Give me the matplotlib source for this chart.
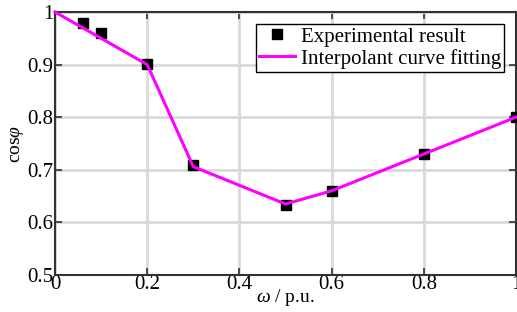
import matplotlib
matplotlib.use('Agg')
import matplotlib.pyplot as plt

# experimental points
exp_w = [0.06, 0.1, 0.2, 0.3, 0.5, 0.6, 0.8, 1.0]
exp_cos = [0.98, 0.961, 0.901, 0.709, 0.633, 0.659, 0.73, 0.80]

# interpolant curve
fit_w = [0.0, 0.2, 0.3, 0.5, 0.6, 0.8, 1.0]
fit_cos = [1.0, 0.9, 0.706, 0.635, 0.66, 0.73, 0.80]

xticks = [0, 0.2, 0.4, 0.6, 0.8, 1]
xticklabels = ['0', '0.2', '0.4', '0.6', '0.8', '1']
yticks = [0.5, 0.6, 0.7, 0.8, 0.9, 1]
yticklabels = ['0.5', '0.6', '0.7', '0.8', '0.9', '1']

plt.rcParams['font.family'] = ['Liberation Serif', 'DejaVu Serif']
plt.rcParams['mathtext.fontset'] = 'custom'
plt.rcParams['mathtext.rm'] = 'Liberation Serif'
plt.rcParams['mathtext.it'] = 'Liberation Serif:italic'

fig = plt.figure(figsize=(5.17, 3.12), dpi=100)
ax = fig.add_axes([55 / 517, 1 - 275 / 312, 461 / 517, 263 / 312])

ax.grid(True, color='#d9d9d9', linewidth=2)
ax.set_axisbelow(True)

ax.plot(exp_w, exp_cos, 's', color='black', markersize=7, label='Experimental result',
        clip_on=False, zorder=3)
ax.plot(fit_w, fit_cos, '-', color='#ff00ff', linewidth=2.2, label='Interpolant curve fitting',
        clip_on=False, zorder=4)

ax.set_xlim(0, 1)
ax.set_ylim(0.5, 1)
ax.set_xticks(xticks)
ax.set_xticklabels(xticklabels)
ax.set_yticks(yticks)
ax.set_yticklabels(yticklabels)
ax.tick_params(direction='in', top=True, right=True, labelsize=15, length=5,
               width=1.2, color='#333333', pad=1)
ax.tick_params(axis='x', pad=0)

for s in ax.spines.values():
    s.set_color('#333333')
    s.set_linewidth(1.5)

ax.set_xlabel(r'$\omega$ / p.u.', fontsize=14, labelpad=-5)
ax.set_ylabel(r'cos$\varphi$', fontsize=14, labelpad=1)

leg = ax.legend(loc='upper right', bbox_to_anchor=(0.975, 0.955), fontsize=15,
                fancybox=False, edgecolor='black', framealpha=1,
                handlelength=1.7, handletextpad=0.3, borderpad=0.15,
                labelspacing=0.1, borderaxespad=0)
leg.get_frame().set_linewidth(1.0)

fig.savefig('out.png', dpi=100)
